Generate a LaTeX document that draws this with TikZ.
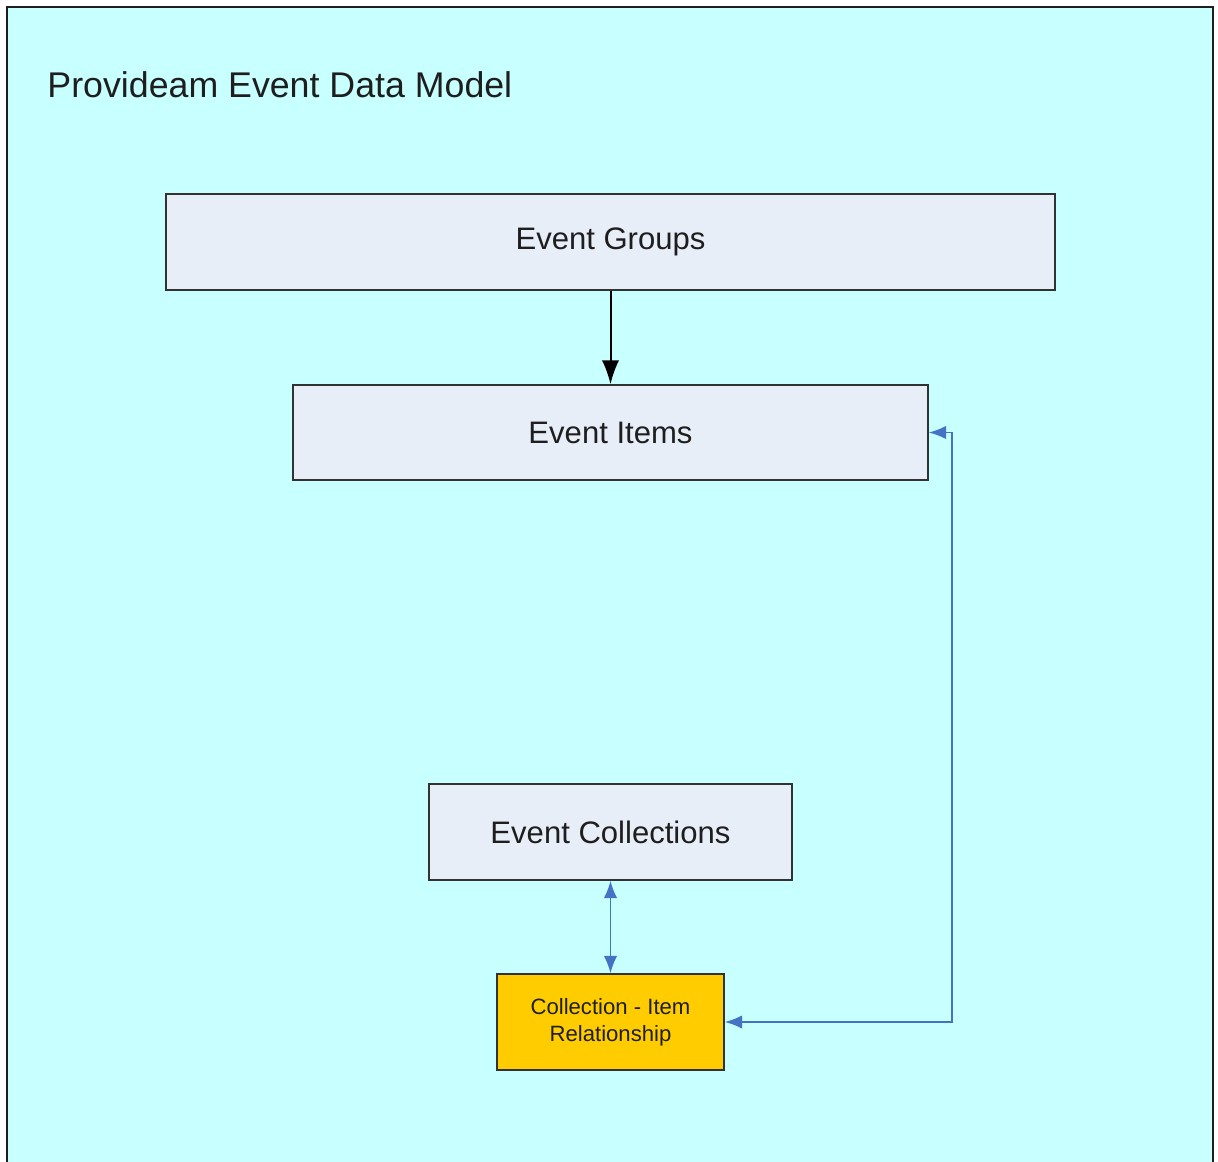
\documentclass[tikz,border=0pt]{standalone}
\usepackage{fontspec}
\setmainfont{Liberation Sans}
\usetikzlibrary{arrows.meta}

\definecolor{pageback}{RGB}{200,255,255}
\definecolor{boxfill}{RGB}{232,238,248}
\definecolor{relfill}{RGB}{255,204,0}
\definecolor{linkblue}{RGB}{68,114,196}
\definecolor{textgray}{RGB}{30,30,30}

\tikzset{every picture/.style={line width=0.75pt}}
\tikzset{
  entity/.style={draw={rgb,255:red,50;green,50;blue,50}, line width=1.1pt, fill=boxfill,
    text=textgray, inner sep=0.75pt, font=\fontsize{23.3}{28}\selectfont},
  relbox/.style={entity, fill=relfill, align=center, font=\fontsize{16.6}{20}\selectfont},
  flow/.style={draw=black, line width=1.5pt, -{Latex[length=18pt,width=13pt]}},
  link/.style={draw=linkblue, line width=1.3pt, {Latex[length=13pt,width=10pt]}-{Latex[length=13pt,width=10pt]}}
}

\begin{document}
\begin{tikzpicture}[x=0.75pt,y=0.75pt,yscale=-1,xscale=1]
\useasboundingbox (0,0) rectangle (1218,1162);

%Frame
\begin{scope}
\clip (0,0) rectangle (1218,1162);
\draw [fill=pageback, draw={rgb,255:red,30;green,30;blue,30}, line width=1.5pt] (7,7) rectangle (1213,1190);
\end{scope}

% Title
\node (title) [anchor=west, inner sep=0pt, text=textgray, font=\fontsize{26.8}{32}\selectfont] at (47,85) {Provideam Event Data Model};

% Entities
\node (groups) [entity, minimum width=666.75pt, minimum height=72pt] at (610.5,242) {Event Groups};
\node (items) [entity, minimum width=476.25pt, minimum height=71.25pt] at (610.5,432.5) {Event Items};
\node (colls) [entity, minimum width=272.25pt, minimum height=72pt] at (610.5,832) {Event Collections};
\node (rel) [relbox, minimum width=170.25pt, minimum height=72pt] at (610.5,1022) {Collection - Item\\Relationship};

% Connectors
\coordinate (bend) at (952,1022);
\draw [flow] (groups) -- (items);
\draw [link] (colls) -- (rel);
\draw [link] (rel.east) -- (bend) |- (items.east);

\end{tikzpicture}
\end{document}
